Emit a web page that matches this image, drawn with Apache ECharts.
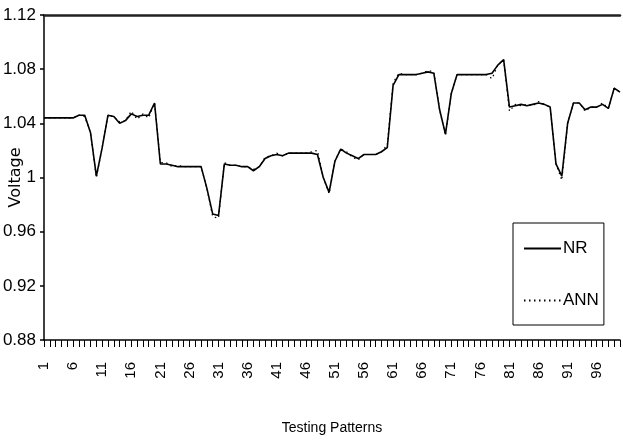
<!DOCTYPE html>
<html>
<head>
<meta charset="utf-8">
<script src="https://cdn.jsdelivr.net/npm/echarts@6/dist/echarts.min.js"></script>
<style>
html,body{margin:0;padding:0;background:#fff;}
#chart{width:623px;height:446px;}
</style>
</head>
<body>
<div id="chart"></div>
<script>
var categories = [];
for (var i = 1; i <= 100; i++) categories.push(String(i));

var nrValues = [
  1.044,1.044,1.044,1.044,1.044,1.044,1.046,1.046,1.033,1.001,
  1.022,1.046,1.045,1.040,1.042,1.047,1.045,1.046,1.046,1.055,
  1.010,1.010,1.009,1.008,1.008,1.008,1.008,1.008,0.992,0.973,
  0.972,1.010,1.009,1.009,1.008,1.008,1.005,1.008,1.014,1.016,
  1.017,1.016,1.018,1.018,1.018,1.018,1.018,1.017,1.000,0.989,
  1.012,1.021,1.018,1.016,1.014,1.017,1.017,1.017,1.019,1.022,
  1.068,1.076,1.076,1.076,1.076,1.077,1.078,1.077,1.050,1.032,
  1.062,1.076,1.076,1.076,1.076,1.076,1.076,1.077,1.083,1.087,
  1.052,1.053,1.054,1.053,1.054,1.055,1.054,1.052,1.010,1.001,
  1.040,1.055,1.055,1.050,1.052,1.052,1.054,1.051,1.066,1.063
];

var annValues = [
  1.044,1.044,1.044,1.044,1.044,1.044,1.046,1.045,1.033,1.000,
  1.022,1.046,1.045,1.041,1.042,1.049,1.043,1.047,1.044,1.055,
  1.011,1.011,1.008,1.009,1.008,1.008,1.008,1.008,0.992,0.971,
  0.970,1.011,1.009,1.009,1.008,1.008,1.006,1.008,1.015,1.016,
  1.018,1.016,1.018,1.018,1.018,1.018,1.019,1.020,1.000,0.988,
  1.012,1.021,1.019,1.015,1.013,1.017,1.017,1.017,1.019,1.024,
  1.070,1.077,1.076,1.076,1.076,1.077,1.079,1.078,1.050,1.031,
  1.062,1.076,1.076,1.076,1.076,1.076,1.076,1.073,1.083,1.087,
  1.049,1.054,1.053,1.054,1.053,1.056,1.054,1.052,1.010,0.998,
  1.040,1.055,1.055,1.049,1.052,1.052,1.055,1.051,1.066,1.063
];

var yMin = 0.88, yMax = 1.12, yStep = 0.04;

var sans = "'Liberation Sans',Arial,sans-serif";

var chart = echarts.init(document.getElementById('chart'));
chart.setOption({
  animation: false,
  backgroundColor: '#ffffff',
  grid: { left: 44, right: 3, top: 15, bottom: 106, containLabel: false, outerBoundsMode: 'none' },
  legend: {
    orient: 'vertical',
    left: 513,
    top: 223,
    padding: [17, 5, 16, 10],
    itemGap: 35,
    itemWidth: 37,
    itemHeight: 20,
    borderColor: '#000',
    borderWidth: 1,
    backgroundColor: '#fff',
    itemStyle: { color: 'rgba(0,0,0,0)', borderWidth: 0, opacity: 0 },
    textStyle: { fontFamily: sans, fontSize: 17, color: '#000', padding: [0, 0, 0, -3] },
    data: ['NR', 'ANN']
  },
  xAxis: [{
    type: 'category',
    data: categories,
    boundaryGap: false,
    name: 'Testing Patterns',
    nameLocation: 'middle',
    nameGap: 81,
    nameMoveOverlap: false,
    nameTextStyle: { fontFamily: sans, fontSize: 14, color: '#000' },
    axisLine: { lineStyle: { color: '#000', width: 1.5 } },
    axisTick: { show: true, interval: 0, length: 7, lineStyle: { color: '#000', width: 1 } },
    axisLabel: { interval: 4, rotate: 90, margin: 22, fontFamily: sans, fontSize: 15, color: '#000' },
    splitLine: { show: false }
  }, {
    type: 'category',
    data: categories,
    boundaryGap: false,
    position: 'top',
    axisLine: { show: true, lineStyle: { color: '#222', width: 2.5 } },
    axisTick: { show: false },
    axisLabel: { show: false },
    splitLine: { show: false }
  }],
  yAxis: {
    type: 'value',
    min: yMin,
    max: yMax,
    interval: yStep,
    name: 'Voltage',
    nameLocation: 'middle',
    nameGap: 20,
    nameRotate: 90,
    nameMoveOverlap: false,
    nameTextStyle: { fontFamily: "'DejaVu Sans',sans-serif", fontSize: 16, color: '#000' },
    axisLine: { show: true, lineStyle: { color: '#000', width: 1.5 } },
    axisTick: { show: true, length: 4, lineStyle: { color: '#000', width: 1.5 } },
    axisLabel: {
      margin: 8,
      fontFamily: sans,
      fontSize: 17,
      color: '#000',
      formatter: function (v) { return String(parseFloat(v.toFixed(2))); }
    },
    splitLine: { show: false }
  },
  series: [{
    name: 'NR',
    type: 'line',
    data: nrValues,
    symbol: 'none',
    showSymbol: false,
    lineStyle: { color: '#000', width: 1.6, type: 'solid' },
    itemStyle: { color: '#000' },
    z: 2
  }, {
    name: 'ANN',
    type: 'line',
    data: annValues,
    symbol: 'none',
    showSymbol: false,
    lineStyle: { color: '#000', width: 1.2, type: [1.5, 3.5] },
    itemStyle: { color: '#000' },
    z: 3
  }]
});
</script>
</body>
</html>
